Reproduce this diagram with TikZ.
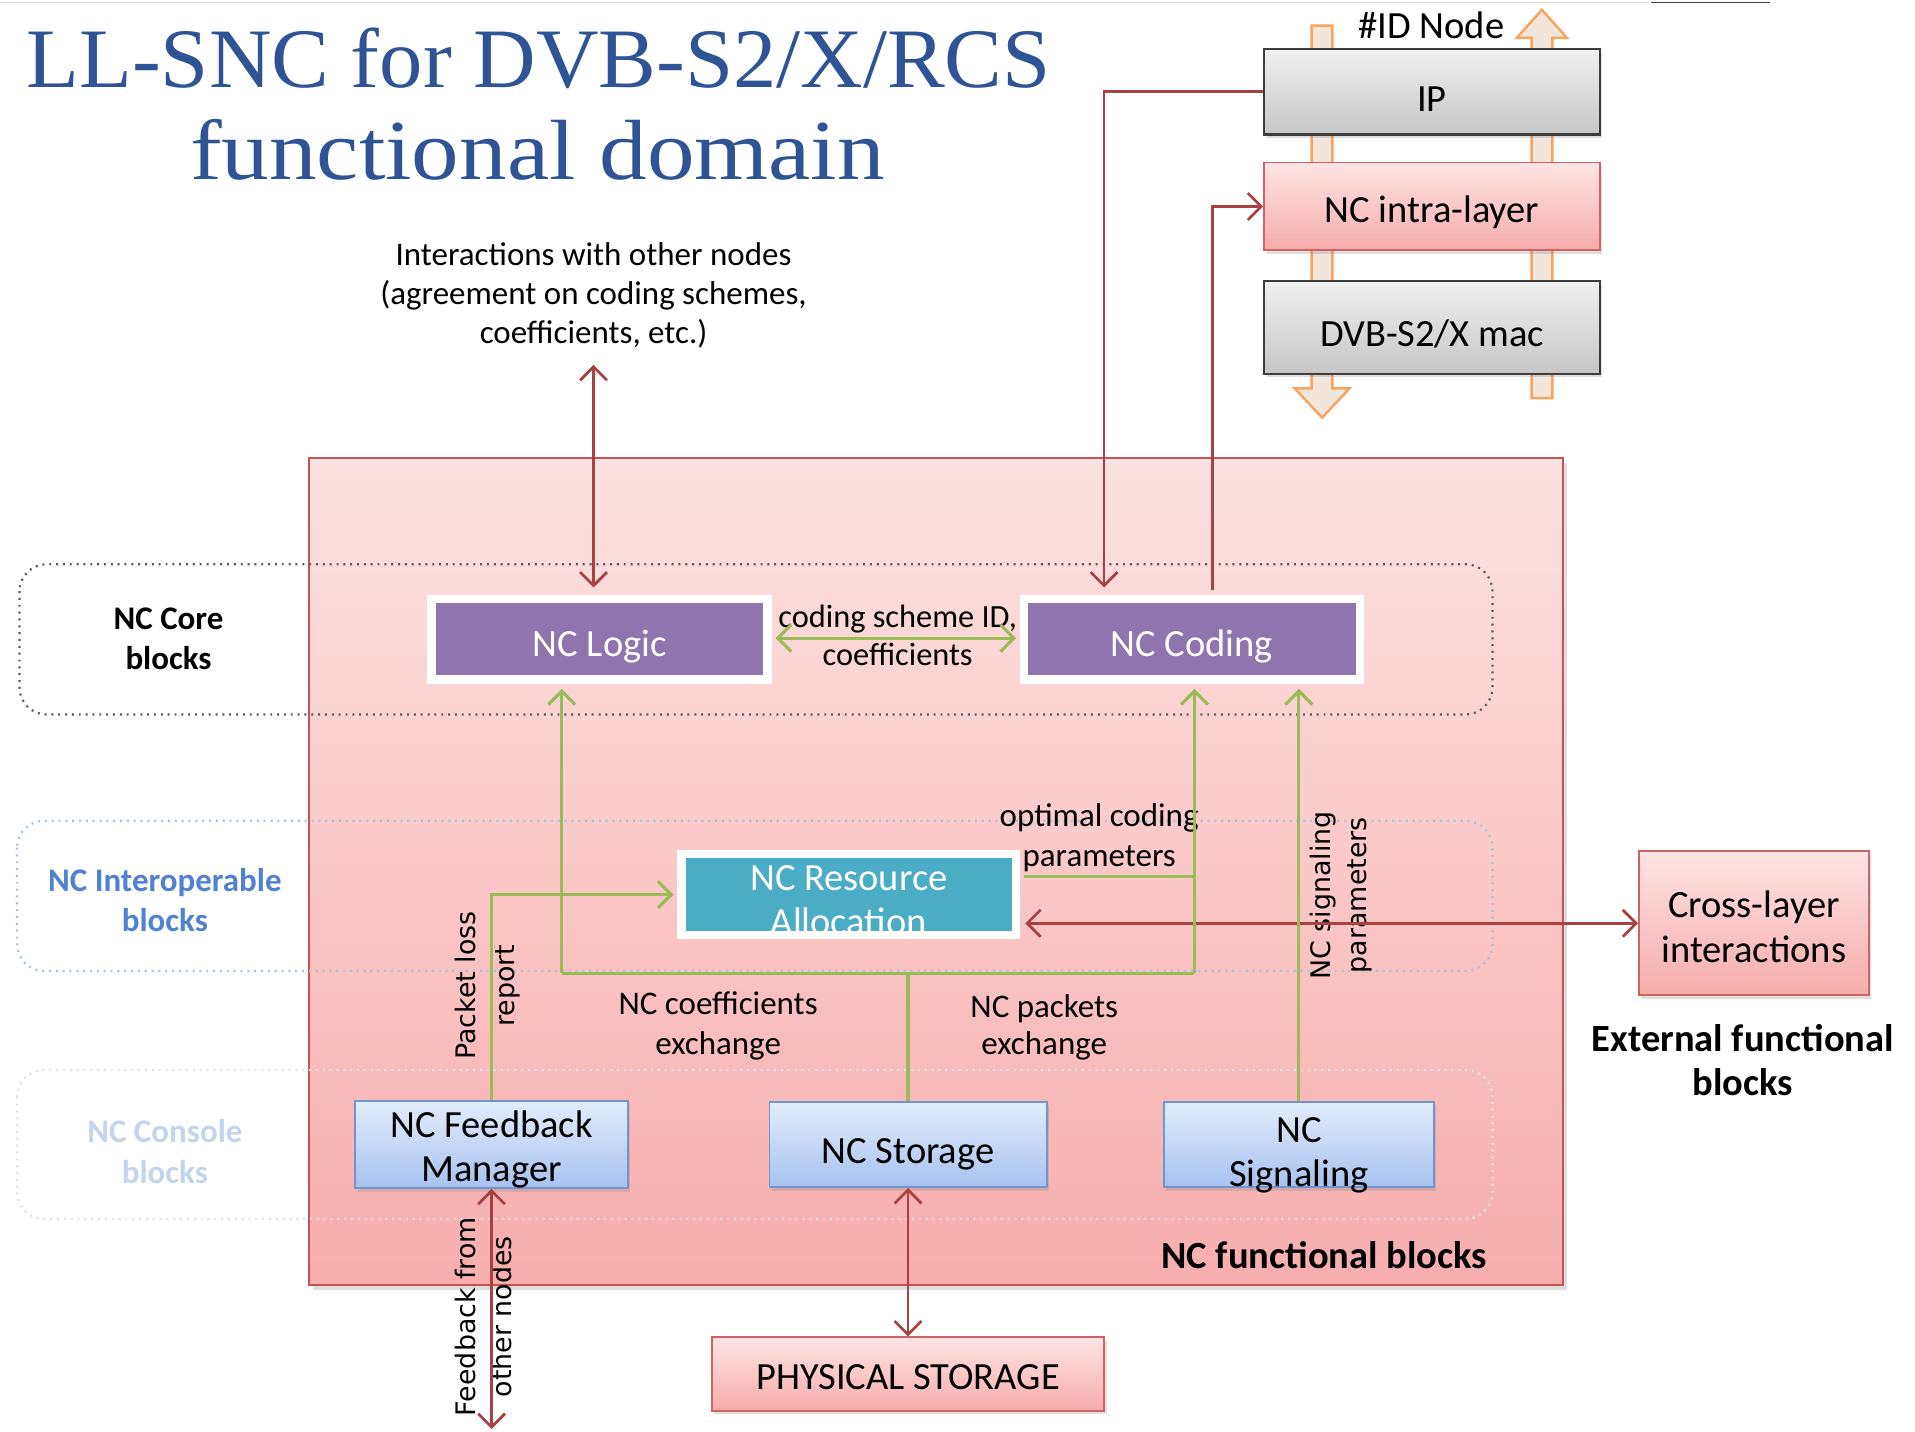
\documentclass[tikz,border=0pt]{standalone}
\usepackage{fontspec}
\setsansfont{Carlito}
\newfontfamily\dejavu{DejaVu Sans}
\newfontfamily\titlefont{Liberation Serif}
\usetikzlibrary{arrows.meta,calc,shadows}
\newcommand\fsz[2]{\fontsize{#1}{#2}\selectfont}
\newcommand\dn[1]{\rule{0pt}{#1pt}}
\definecolor{titleblue}{RGB}{47,84,150}
\definecolor{darkred}{RGB}{168,66,64}
\definecolor{grn}{RGB}{155,187,89}
\definecolor{purp}{RGB}{142,117,173}
\definecolor{cyanbox}{RGB}{75,172,198}
\definecolor{orline}{RGB}{245,165,95}
\definecolor{orfill}{RGB}{242,230,218}
\definecolor{interblue}{RGB}{80,130,210}
\definecolor{consblue}{RGB}{195,212,238}
\begin{document}
\begin{tikzpicture}[x=1pt,y=-1pt,
  >={Straight Barb[length=11pt,width=22pt]},
  every node/.style={font=\sffamily},
  txt/.style={align=center,font=\sffamily\fsz{27}{32}},
  rtxt/.style={align=center,rotate=90,font=\dejavu\fsz{22}{32}},
  bold/.style={align=center,font=\sffamily\bfseries\fsz{27}{33}},
  graybox/.style={draw={rgb,255:red,60;green,60;blue,60},line width=2pt,top color={rgb,255:red,240;green,240;blue,240},bottom color={rgb,255:red,198;green,198;blue,198},minimum width=275pt,minimum height=70pt,inner sep=0pt,font=\sffamily\fsz{31.5}{36},drop shadow={shadow xshift=2pt,shadow yshift=-3pt,opacity=0.25}},
  pinkbox/.style={draw={rgb,255:red,205;green,100;blue,98},line width=1.5pt,top color={rgb,255:red,253;green,228;blue,228},bottom color={rgb,255:red,246;green,172;blue,170},inner sep=0pt,align=center,font=\sffamily\fsz{31.5}{37},drop shadow={shadow xshift=2pt,shadow yshift=-3pt,opacity=0.25}},
  corebox/.style={fill=purp,draw=white,line width=7pt,minimum width=275pt,minimum height=66pt,inner sep=0pt,text=white,font=\sffamily\fsz{31.5}{36},drop shadow={shadow xshift=2pt,shadow yshift=-3pt,opacity=0.3}},
  bluebox/.style={draw={rgb,255:red,110;green,150;blue,210},line width=1.5pt,top color={rgb,255:red,226;green,237;blue,253},bottom color={rgb,255:red,166;green,194;blue,238},inner sep=0pt,align=center,font=\sffamily\fsz{31.5}{36},drop shadow={shadow xshift=2pt,shadow yshift=-3pt,opacity=0.25}},
  boxlbl/.style={align=center,inner sep=0pt,font=\sffamily\fsz{31.5}{36}},
  layer/.style={rounded corners=22pt,line width=1.8pt,dash pattern=on 1.6pt off 4pt},
  redarr/.style={draw=darkred,line width=2.2pt},
  grnarr/.style={draw=grn,line width=2.6pt},
  orangearr/.style={draw=orline,fill=orfill,line width=2pt,line join=miter}
]
\useasboundingbox (0,0) rectangle (1568,1172);
\fill[white] (0,0) rectangle (1568,1172);
% slide artifacts at the top
\draw[black!12,line width=1.5pt] (0,2) -- (1350,2);
\draw[black!75,line width=1.2pt] (1352,2) -- (1449,2);

% title
\node[anchor=base,text=titleblue,font=\titlefont\fsz{66}{72}] (title1) at (441,72) {\scalebox{1.074}[1.05]{LL-SNC for DVB-S2/X/RCS}};
\node[anchor=base,text=titleblue,font=\titlefont\fsz{66}{72}] (title2) at (440,147) {\scalebox{1.18}[1.06]{functional domain}};

% orange layer arrows
\draw[orangearr] (1074,21) -- (1091,21) -- (1091,318) -- (1105,318) -- (1082.5,342) -- (1060,318) -- (1074,318) -- cycle;
\draw[orangearr] (1254,326) -- (1271,326) -- (1271,31) -- (1283,31) -- (1262.5,8) -- (1242,31) -- (1254,31) -- cycle;
\node[font=\sffamily\fsz{31.5}{36}] (idnode) at (1172,21) {\#ID Node};

% protocol stack
\node[graybox] (ip) at (1172.5,75) {\dn{32}IP};
\node[pinkbox,minimum width=275pt,minimum height=72pt] (intra) at (1172.5,169) {\dn{32}NC intra-layer};
\node[graybox,minimum height=76pt] (mac) at (1172.5,268) {\dn{32}DVB-S2/X mac};

% main functional box
\draw[draw={rgb,255:red,200;green,82;blue,80},line width=1.5pt,top color={rgb,255:red,252;green,226;blue,226},bottom color={rgb,255:red,247;green,174;blue,172},drop shadow={shadow xshift=3pt,shadow yshift=-4pt,opacity=0.25}] (253,375) rectangle (1280,1052);
\node[bold,anchor=east,font=\sffamily\bfseries\fsz{31.5}{36}] (ncfb) at (1221,1028) {NC functional blocks};

% layer frames
\draw[layer,draw=black!65] (16,462) rectangle (1222,585);
\draw[layer,draw={rgb,255:red,160;green,195;blue,232}] (14,672) rectangle (1222,795);
\draw[layer,draw={rgb,255:red,218;green,226;blue,240}] (14,876) rectangle (1222,998);
\node[bold] (corelbl) at (138,523) {NC Core\\blocks};
\node[bold,text=interblue] (interlbl) at (135,737) {NC Interoperable\\blocks};
\node[bold,text=consblue] (conslbl) at (135,943) {NC Console\\blocks};

% core blocks
\node[corebox] (logic) at (491,523.5) {\dn{33}NC Logic};
\node[corebox] (coding) at (976,523.5) {\dn{33}NC Coding};
\node[corebox,fill=cyanbox,minimum width=274pt,minimum height=64pt,align=center] (res) at (695,732.5) {\dn{30}NC Resource\\Allocation};

% console blocks
\node[bluebox,minimum width=223pt,minimum height=70pt] (fb) at (402.5,937) {\dn{30}NC Feedback\\Manager};
\node[bluebox,minimum width=227pt,minimum height=70pt] (stor) at (743.5,937) {\dn{36}NC Storage};
\node[bluebox,minimum width=221pt,minimum height=70pt,label={[boxlbl,yshift=-9pt]center:NC\\Signaling}] (sig) at (1063.5,937) {};

% external blocks
\node[pinkbox,minimum width=188pt,minimum height=118pt] (cross) at (1436,756) {\dn{28}Cross-layer\\interactions};
\node[bold,font=\sffamily\bfseries\fsz{31.5}{36}] (extlbl) at (1427,868) {External functional\\blocks};
\node[pinkbox,minimum width=321pt,minimum height=60pt] (phys) at (743.5,1125) {\dn{26}PHYSICAL STORAGE};

% free labels
\node[txt] (inter) at (486,242) {Interactions with other nodes\\(agreement on coding schemes,\\coefficients, etc.)};
\node[txt,font=\sffamily\fsz{26.5}{31}] (csid) at (735,520) {coding scheme ID,\\coefficients};
\node[txt,font=\sffamily\fsz{27}{33}] (optc) at (900,686) {optimal coding\\parameters};
\node[txt,font=\sffamily\fsz{27}{33}] (coefx) at (588,840) {NC coefficients\\exchange};
\node[txt,font=\sffamily\fsz{27}{30}] (pktx) at (855,841) {NC packets\\exchange};
\node[rtxt,font=\dejavu\fsz{22}{29}] (sigp) at (1098,733) {NC signaling\\parameters};
\node[rtxt] (plr) at (399,807) {Packet loss\\report};
\node[rtxt,font=\dejavu\fsz{22}{30}] (fbon) at (396,1078) {Feedback from\\other nodes};

% coordinates
\coordinate (busL) at (460,797);
\coordinate (busR) at (978,797);
\coordinate (fbend) at (402.5,1170);

% red connectors
\draw[redarr,<->] ($(inter.south)+(0,10)$) -- ($(inter.south |- logic.north)+(0,-6)$);
\draw[redarr,->] (ip.west) -| ($(coding.north)+(-72,-6)$);
\draw[redarr,->] ($(coding.north)+(17,-4)$) |- (intra.west);
\draw[redarr,<->] ($(res.east |- cross.west)+(4,0)$) -- (cross.west);
\draw[redarr,<->] (fb.south) -- (fbend);
\draw[redarr,<->] (stor.south) -- (phys.north);

% green connectors
\draw[grnarr,<->] ($(logic.east)+(3,-1)$) -- ($(coding.west)+(-3,-1)$);
\draw[grnarr] (busL) -- (busR);
\draw[grnarr,->] (busL) -- ($(busL |- logic.south)+(0,4)$);
\draw[grnarr,->] (busR) -- ($(busR |- coding.south)+(0,4)$);
\draw[grnarr] (stor.north) -- (stor.north |- busL);
\draw[grnarr] ($(res.east)+(3,-14.5)$) -- ($(busR |- res.east)+(0,-14.5)$);
\draw[grnarr,->] (fb.north) |- ($(res.west)+(-3,0)$);
\draw[grnarr,->] (sig.north) -- ($(sig.north |- coding.south)+(0,4)$);
\end{tikzpicture}
\end{document}
